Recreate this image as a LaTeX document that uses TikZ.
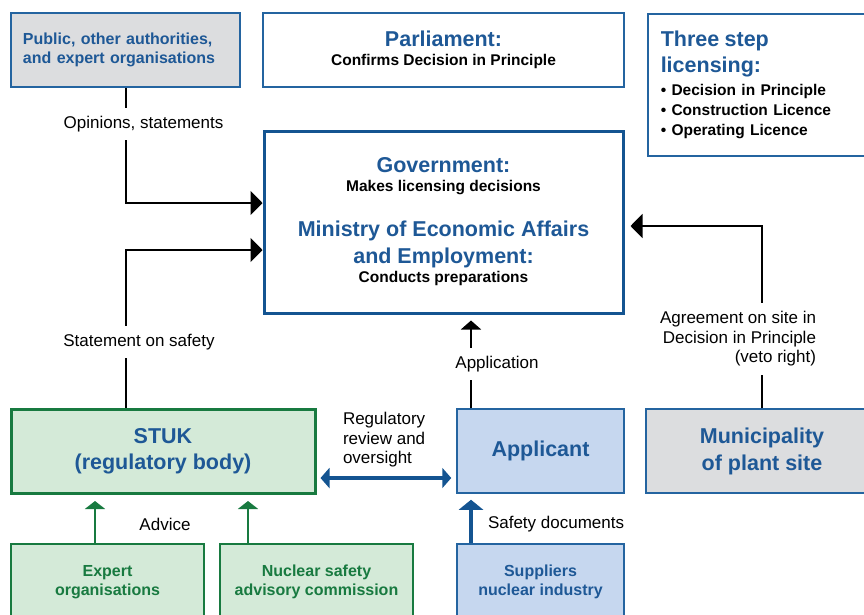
\documentclass[tikz,border=0pt]{standalone}
\usepackage{fontspec}
\setmainfont{Liberation Sans}
\usetikzlibrary{arrows.meta}
\definecolor{txtblue}{RGB}{30,88,150}
\definecolor{boxblue}{RGB}{36,100,160}
\definecolor{darkblue}{RGB}{20,84,145}
\definecolor{boxgray}{RGB}{220,221,223}
\definecolor{stukgreen}{RGB}{24,122,64}
\definecolor{lightgreen}{RGB}{212,234,216}
\definecolor{lightblue}{RGB}{198,215,239}
\newcommand\boxtitle[1]{{\fontsize{21.5}{20}\selectfont #1}}
\newcommand\boxsub[1]{\textcolor{black}{\fontsize{15.5}{20}\selectfont #1}}

\begin{document}
\begin{tikzpicture}[x=1pt,y=-1pt,line width=2pt,
  box/.style={draw=boxblue,line width=1.5pt,inner sep=0pt,align=center,
    text=txtblue,font=\bfseries\fontsize{16}{20}\selectfont},
  greenbox/.style={box,draw=stukgreen,fill=lightgreen,text=stukgreen},
  lbl/.style={fill=white,inner xsep=1pt,inner ysep=8pt,font=\fontsize{17}{19.5}\selectfont},
  conn/.style={-{Triangle[length=12pt,width=24pt]}},
  small/.style={-{Triangle[length=9pt,width=20pt]},shorten >=6pt},
  advice/.style={stukgreen,-{Triangle[length=8pt,width=20pt]},shorten >=6.5pt},
  bluearr/.style={darkblue,line width=4pt}]
\useasboundingbox (0,0) rectangle (864,614);
\clip (0,0) rectangle (864,614);
% top row
\node[box,fill=boxgray,minimum width=229pt,minimum height=74pt,text width=205pt,
  align=left,inner xsep=12pt] (pub) at (125.5,50)
  {Public, other authorities,\\[-1pt]and expert organisations};
\node[box,minimum width=361pt,minimum height=74pt] (parl) at (443.5,50)
  {\boxtitle{Parliament:}\\[-1pt]\boxsub{Confirms Decision in Principle}};
\node[box,anchor=north west,minimum width=232pt,minimum height=142pt,text width=206pt,
  align=left,inner xsep=12pt] (three) at (647,13)
  {\boxtitle{Three step}\\[5pt]\boxtitle{licensing:}\\[3pt]
   \boxsub{\textbullet\ Decision in Principle}\\
   \boxsub{\textbullet\ Construction Licence}\\
   \boxsub{\textbullet\ Operating Licence}};
% government
\node[box,draw=darkblue,line width=3pt,minimum width=359pt,minimum height=182pt] (gov) at (443.5,222)
  {\boxtitle{Government:}\\[-1pt]\boxsub{Makes licensing decisions}\\[25pt]
   \boxtitle{Ministry of Economic Affairs}\\[6pt]\boxtitle{and Employment:}\\[-1pt]
   \boxsub{Conducts preparations}};
% middle row
\node[greenbox,line width=3pt,minimum width=304pt,minimum height=84pt,text=txtblue] (stuk) at (163,451)
  {\boxtitle{STUK}\\[6pt]\boxtitle{(regulatory body)}};
\node[box,fill=lightblue,minimum width=167pt,minimum height=84pt] (app) at (540.5,451)
  {\boxtitle{Applicant}};
\node[box,fill=boxgray,minimum width=232pt,minimum height=84pt] (muni) at (762,451)
  {\boxtitle{Municipality}\\[6pt]\boxtitle{of plant site}};
% bottom row
\node[greenbox,minimum width=193pt,minimum height=76pt] (expert) at (107.5,582)
  {Expert\\[-1pt]organisations};
\node[greenbox,minimum width=193pt,minimum height=76pt] (nuc) at (316.5,582)
  {Nuclear safety\\[-1pt]advisory commission};
\node[box,fill=lightblue,minimum width=167pt,minimum height=76pt] (supp) at (540.5,582)
  {Suppliers\\[-1pt]nuclear industry};
% connectors
\draw[conn] (pub.south) |- ([yshift=19pt]gov.west);
\draw[conn] (stuk.north -| pub.south) |- ([yshift=-28pt]gov.west);
\draw[small] ([xshift=-69.5pt]app.north) -- ([xshift=-69.5pt]app.north |- gov.south);
\draw[conn,shorten >=6pt] (muni.north) |- ([yshift=-4pt]gov.east);
\draw[bluearr,{Triangle[length=9pt,width=20pt]}-{Triangle[length=9pt,width=20pt]},shorten <=4pt,shorten >=5pt]
  ([yshift=-27pt]stuk.east) -- ([yshift=-27pt]app.west);
\draw[advice] ([xshift=-12.5pt]expert.north) -- ([xshift=-12.5pt]expert.north |- stuk.south);
\draw[advice] ([xshift=-68.5pt]nuc.north) -- ([xshift=-68.5pt]nuc.north |- stuk.south);
\draw[bluearr,-{Triangle[length=10pt,width=24pt]},shorten >=6pt]
  ([xshift=-69.5pt]supp.north) -- ([xshift=-69.5pt]supp.north |- app.south);
% labels
\node[lbl] (opin) at (143.5,124) {Opinions, statements};
\node[lbl] (safe) at (139,342) {Statement on safety};
\node[lbl] (appl) at (497,364) {Application};
\node[lbl,anchor=east,align=right,inner ysep=9pt] (agree) at (818,339)
  {Agreement on site in\\Decision in Principle\\(veto right)};
\node[lbl,anchor=west,align=left,fill=none] (regul) at (341,440)
  {Regulatory\\review and\\oversight};
\node[lbl,fill=none] (adv) at (165,524) {Advice};
\node[lbl,fill=none,anchor=west] (sdoc) at (486,524) {Safety documents};
\end{tikzpicture}
\end{document}
